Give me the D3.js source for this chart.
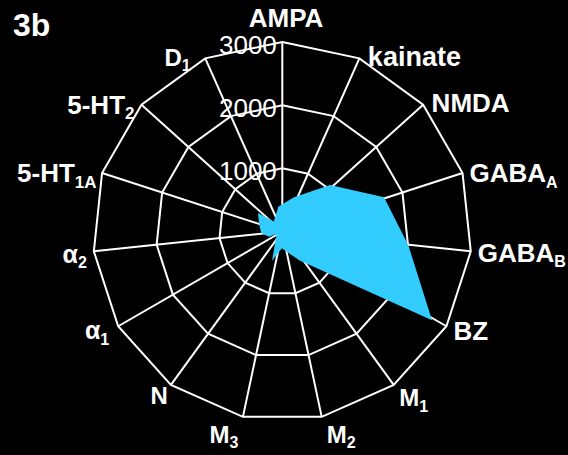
<!DOCTYPE html>
<html><head><meta charset="utf-8">
<script src="https://cdn.jsdelivr.net/npm/d3@7"></script>
<style>html,body{margin:0;padding:0;background:#000;} svg{display:block;}</style>
</head><body>
<svg id="chart" width="568" height="455"></svg>
<script>
// Receptor binding densities, one spoke per receptor ("_" marks a subscript)
const categories = ["AMPA", "kainate", "NMDA", "GABA_A", "GABA_B", "BZ", "M_1", "M_2", "M_3", "N", "α_1", "α_2", "5-HT_1A", "5-HT_2", "D_1"];
const bindingValues = [390, 590, 1100, 1760, 2070, 2810, 565, 270, 475, 45, 170, 270, 315, 435, 175];
const ringTicks = [1000, 2000, 3000];
const panelLabel = "3b";

const W = 568, H = 455;
const cx = 282.3, cy = 231.5, R = 189.5;
const dataShiftX = -4;
const FONT = "'Liberation Sans', Arial, Helvetica, sans-serif";

const svg = d3.select("#chart");
svg.append("rect").attr("width", W).attr("height", H).attr("fill", "#000");

const n = categories.length;
const angle = d3.scaleLinear().domain([0, n]).range([0, 2 * Math.PI]);
const r = d3.scaleLinear().domain([0, 3000]).range([0, R]);

const g = svg.append("g").attr("transform", `translate(${cx},${cy})`);
const radial = d3.lineRadial()
  .angle((d, i) => angle(i))
  .radius(d => r(d))
  .curve(d3.curveLinearClosed);

// polygon rings
g.append("g").selectAll("path").data(ringTicks).join("path")
  .attr("d", t => radial(categories.map(() => t)))
  .attr("fill", "none").attr("stroke", "#fff").attr("stroke-width", 2)
  .attr("stroke-linejoin", "miter");

// spokes
g.append("g").selectAll("line").data(categories).join("line")
  .attr("x1", 0).attr("y1", 0)
  .attr("x2", (d, i) => r(3000) * Math.sin(angle(i)))
  .attr("y2", (d, i) => -r(3000) * Math.cos(angle(i)))
  .attr("stroke", "#fff").attr("stroke-width", 2);

// ring values
g.append("g").selectAll("text").data(ringTicks).join("text")
  .attr("x", -5.5).attr("y", t => -r(t) + 11.5)
  .attr("text-anchor", "end")
  .attr("font-family", FONT).attr("font-size", 26).attr("fill", "#fff")
  .text(t => t);

// binding profile
g.append("path")
  .attr("transform", `translate(${dataShiftX},0)`)
  .attr("d", radial(bindingValues))
  .attr("fill", "#33CCFF");

// spoke labels
const labelTweak = {
  "AMPA": {size: 26},
  "kainate": {size: 27, dx: 1.5, dy: -1.4},
  "NMDA": {size: 26, dx: 1.5, dy: -1.5},
  "GABA_A": {size: 26},
  "GABA_B": {size: 26},
  "BZ": {size: 26, dy: -2.7},
  "M_1": {size: 24, dx: -1.5},
  "M_2": {size: 24, dx: -2, dy: 2},
  "M_3": {size: 24, dx: 2.4, dy: 2},
  "N": {size: 24, dx: 4, dy: -2.4},
  "α_1": {size: 25, dx: -2, dy: -3.4},
  "α_2": {size: 25, dy: 1},
  "5-HT_1A": {size: 26, sub: 17, dx: 1.5},
  "5-HT_2": {size: 26, sub: 17},
  "D_1": {size: 24, dx: -7.5, dy: -1.7}
};

categories.forEach((name, i) => {
  const a = angle(i);
  const s = Math.sin(a), c = -Math.cos(a);
  const vx = r(3000) * s, vy = r(3000) * c;
  const tw = labelTweak[name] || {};
  let anchor, x, y;
  if (Math.abs(s) < 0.05) {
    anchor = "middle"; x = vx + 3.7; y = vy - 15;
  } else {
    anchor = s > 0 ? "start" : "end";
    x = vx + (s > 0 ? 7 : -7);
    y = vy + 9 + 15 * Math.max(0, c);
  }
  x += tw.dx || 0; y += tw.dy || 0;
  const [main, sub] = name.split("_");
  const t = g.append("text")
    .attr("x", x).attr("y", y)
    .attr("text-anchor", anchor)
    .attr("font-family", FONT).attr("font-weight", "bold")
    .attr("font-size", tw.size || 26).attr("fill", "#fff");
  t.append("tspan").text(main);
  if (sub) {
    t.append("tspan").attr("dy", 5.6).attr("font-size", tw.sub || 16).text(sub);
  }
});

svg.append("text")
  .attr("x", 13).attr("y", 36)
  .attr("font-family", FONT).attr("font-weight", "bold")
  .attr("font-size", 32).attr("fill", "#fff")
  .text(panelLabel);
</script>
</body></html>
